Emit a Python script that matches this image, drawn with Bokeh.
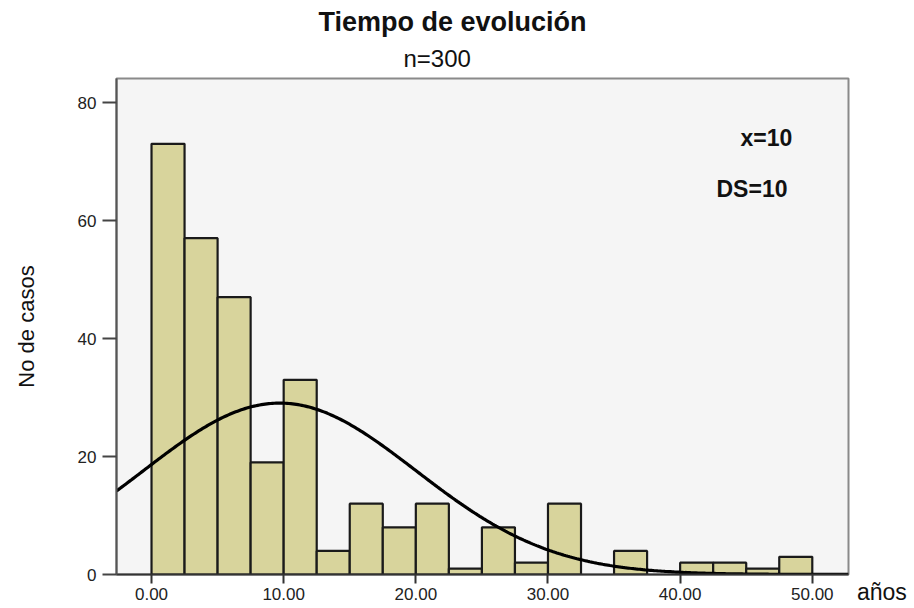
import numpy as np
from bokeh.plotting import figure
from bokeh.layouts import row
from bokeh.models import Range1d, Label, FixedTicker, NumeralTickFormatter, Title, Div
from bokeh.embed import file_html
from bokeh.resources import INLINE

# ---- data ----
bin_left = [0.0, 2.5, 5.0, 7.5, 10.0, 12.5, 15.0, 17.5, 20.0, 22.5,
            25.0, 27.5, 30.0, 32.5, 35.0, 37.5, 40.0, 42.5, 45.0, 47.5]
counts = [73, 57, 47, 19, 33, 4, 12, 8, 12, 1,
          8, 2, 12, 0, 4, 0, 2, 2, 1, 3]
bin_width = 2.5
x_ticks = [0, 10, 20, 30, 40, 50]
y_ticks = [0, 20, 40, 60, 80]
n_cases = 300
mean_years = 9.7
sd_years = 10.3
x_start, x_end = -2.65, 52.74
y_start, y_end = 0, 84.07

title_text = "Tiempo de evolución"
subtitle_text = "n=300"
mean_text = "x=10"
sd_text = "DS=10"
y_label = "No de casos"
x_label = "años"

FONT = "Liberation Sans"
H = 607

p = figure(frame_width=732, frame_height=496,
           min_border_left=116, min_border_right=6,
           min_border_top=78, min_border_bottom=33,
           x_range=Range1d(x_start, x_end), y_range=Range1d(y_start, y_end),
           output_backend="svg", toolbar_location=None, title=None)

p.background_fill_color = "#f5f5f5"
p.border_fill_color = "white"
p.outline_line_color = "#8a8a8a"
p.outline_line_width = 2
p.xgrid.visible = False
p.ygrid.visible = False

# titles (first added sits closest to the frame)
p.add_layout(Title(text=subtitle_text, align="left", offset=287, standoff=13,
                   text_line_height=0.85,
                   text_font=FONT, text_font_size="24px", text_font_style="normal",
                   text_color="#111111"), "above")
p.add_layout(Title(text=title_text, align="left", offset=202, standoff=0,
                   text_font=FONT, text_font_size="27px", text_font_style="bold",
                   text_color="#111111"), "above")

# bars
lefts = [l for l, c in zip(bin_left, counts) if c > 0]
tops = [c for c in counts if c > 0]
rights = [l + bin_width for l in lefts]
p.quad(left=lefts, right=rights, bottom=0, top=tops,
       fill_color="#d8d49c", line_color="#1a1a1a", line_width=2.2)

# fitted normal curve
xs = np.linspace(x_start, x_end, 400)
ys = n_cases * bin_width / (sd_years * np.sqrt(2 * np.pi)) * np.exp(-0.5 * ((xs - mean_years) / sd_years) ** 2)
p.line(xs, ys, line_color="black", line_width=3.2)

# axes
xa = p.xaxis[0]
xa.ticker = FixedTicker(ticks=x_ticks)
xa.formatter = NumeralTickFormatter(format="0.00")
xa.major_tick_out = 9
xa.major_tick_in = 0
xa.minor_tick_line_color = None
xa.major_label_standoff = 4
xa.axis_line_color = "#333333"
xa.axis_line_width = 2
xa.major_tick_line_color = "#333333"
xa.major_tick_line_width = 2
xa.major_label_text_font = FONT
xa.major_label_text_font_size = "17px"
xa.major_label_text_color = "#222222"

ya = p.yaxis[0]
ya.ticker = FixedTicker(ticks=y_ticks)
ya.major_tick_out = 14
ya.major_tick_in = 0
ya.minor_tick_line_color = None
ya.major_label_standoff = 6
ya.axis_line_color = "#555555"
ya.axis_line_width = 2
ya.major_tick_line_color = "#444444"
ya.major_tick_line_width = 2
ya.major_label_text_font = FONT
ya.major_label_text_font_size = "17px"
ya.major_label_text_color = "#222222"
ya.axis_label = y_label
ya.axis_label_text_font = FONT
ya.axis_label_text_font_size = "22px"
ya.axis_label_text_font_style = "normal"
ya.axis_label_text_color = "#111111"
ya.axis_label_standoff = 36

# texts inside the frame (screen units relative to the frame's bottom-left)
def add_label(text, x, y, size, bold=False):
    p.add_layout(Label(x=x, y=y, x_units="screen", y_units="screen", text=text,
                       text_font=FONT, text_font_size=size,
                       text_font_style="bold" if bold else "normal",
                       text_align="left", text_baseline="alphabetic",
                       text_color="#111111"))

add_label(mean_text, 624, 437, "23px", bold=True)
add_label(sd_text, 600, 386, "23px", bold=True)

# x-axis name, to the right of the axis end
side = Div(text=('<div style="margin:576px 0 0 -2px; font-family:\'Liberation Sans\';'
                 ' font-size:23px; line-height:1; color:#111111; white-space:nowrap">'
                 + x_label + '</div>'),
           width=56, height=H)

layout = row(p, side, spacing=0)
open("out.html", "w").write(file_html(layout, INLINE))
